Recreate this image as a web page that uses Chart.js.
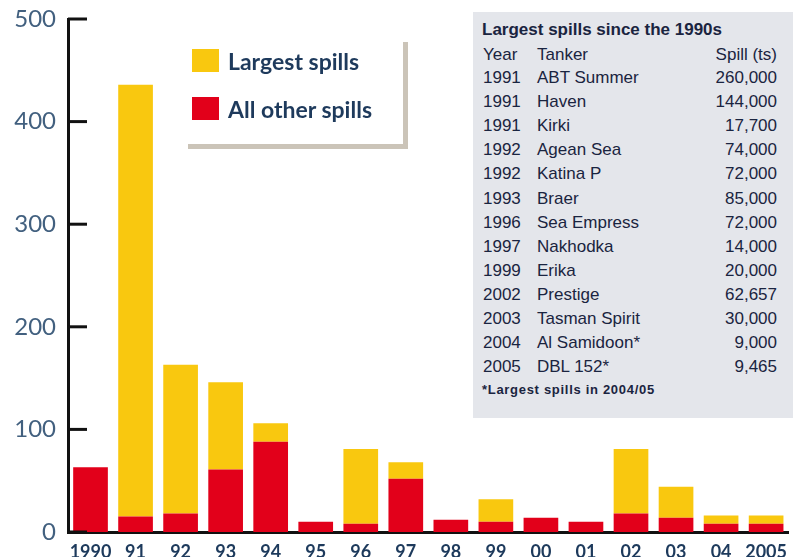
<!DOCTYPE html>
<html>
<head>
<meta charset="utf-8">
<script src="https://cdn.jsdelivr.net/npm/chart.js@4"></script>
<style>
  html, body { margin: 0; padding: 0; background: #fff; overflow: hidden; }
  #wrap { position: relative; width: 796px; height: 566px; }
  #legendBox {
    position: absolute; left: 188px; top: 42px; width: 215px; height: 102px;
    border-right: 5px solid #cbc4b8; border-bottom: 5px solid #cbc4b8;
    font-family: Lato, sans-serif; font-weight: bold; font-size: 23px; color: #1e3a5c;
  }
  .legItem { position: absolute; left: 4px; height: 24px; line-height: 24px; }
  .legItem span.sw { position: absolute; left: 0; top: 0; width: 27px; height: 23px; }
  .legItem span.tx { position: absolute; left: 36px; top: 0px; white-space: nowrap; }
  #tbl {
    position: absolute; left: 473px; top: 12px; width: 320px; height: 406px;
    background: #e4e6eb; font-family: "Liberation Sans", Arial, sans-serif; color: #1a2440;
  }
  .row { position: absolute; left: 0; width: 320px; height: 24px; line-height: 24px; font-size: 17px; }
  .row .yr { position: absolute; left: 10px; }
  .row .tk { position: absolute; left: 64px; }
  .row .sp { position: absolute; right: 16px; }
  .title { position: absolute; left: 9px; top: 6px; font-size: 17px; font-weight: bold; line-height: 24px; white-space: nowrap; }
  .note { position: absolute; left: 9px; top: 368px; font-size: 13px; font-weight: bold; letter-spacing: 0.7px; line-height: 20px; }
</style>
</head>
<body>
<div id="wrap">
  <canvas id="myChart" width="796" height="566"></canvas>
  <div id="legendBox"></div>
  <div id="tbl"></div>
</div>
<script>
const years = ['1990', '91', '92', '93', '94', '95', '96', '97', '98', '99', '00', '01', '02', '03', '04', '2005'];
const otherSpills = [63, 15, 18, 61, 88, 10, 8, 52, 12, 10, 14, 10, 18, 14, 8, 8];
const largestSpills = [0, 421, 145, 85, 18, 0, 73, 16, 0, 22, 0, 0, 63, 30, 8, 8];
const yTicks = [0, 100, 200, 300, 400, 500];

const tableYears = ['1991', '1991', '1991', '1992', '1992', '1993', '1996', '1997', '1999', '2002', '2003', '2004', '2005'];
const tableTankers = ['ABT Summer', 'Haven', 'Kirki', 'Agean Sea', 'Katina P', 'Braer', 'Sea Empress', 'Nakhodka', 'Erika', 'Prestige', 'Tasman Spirit', 'Al Samidoon*', 'DBL 152*'];
const tableSpills = ['260,000', '144,000', '17,700', '74,000', '72,000', '85,000', '72,000', '14,000', '20,000', '62,657', '30,000', '9,000', '9,465'];

const RED = '#e2001a';
const YELLOW = '#f9c80f';

// short tick marks pointing into the plot, like the original
const innerTicks = {
  id: 'innerTicks',
  afterDraw(chart) {
    const y = chart.scales.y;
    const c = chart.ctx;
    c.save();
    c.strokeStyle = '#111';
    c.lineWidth = 3;
    yTicks.forEach(v => {
      const py = y.getPixelForValue(v);
      c.beginPath();
      c.moveTo(y.right, py);
      c.lineTo(y.right + 19, py);
      c.stroke();
    });
    c.restore();
  }
};

const ctx = document.getElementById('myChart');

const chart = new Chart(ctx, {
  type: 'bar',
  data: {
    labels: years,
    datasets: [{
      label: 'All other spills',
      data: otherSpills,
      backgroundColor: RED,
      barPercentage: 0.77,
      categoryPercentage: 1
    }, {
      label: 'Largest spills',
      data: largestSpills,
      backgroundColor: YELLOW,
      barPercentage: 0.77,
      categoryPercentage: 1
    }]
  },
  options: {
    responsive: false,
    animation: false,
    layout: { padding: { top: 19, right: 0, left: 0, bottom: 0 } },
    plugins: {
      legend: { display: false },
      tooltip: { enabled: false }
    },
    scales: {
      x: {
        stacked: true,
        grid: { display: false, drawTicks: false },
        border: { color: '#111', width: 3 },
        ticks: {
          padding: 9,
          color: '#1d3a5c',
          font: { family: 'Lato', size: 18, weight: 'bold' },
          maxRotation: 0,
          autoSkip: false
        },
        afterFit(scale) { scale.height = 34; }
      },
      y: {
        stacked: true,
        min: 0,
        max: 500,
        grid: { display: false, drawTicks: false },
        border: { color: '#111', width: 3 },
        ticks: {
          stepSize: 100,
          padding: 12,
          color: '#42607f',
          font: { family: 'Lato', size: 24 }
        },
        afterFit(scale) {
          scale.width = 68;
          scale.paddingTop = 0;
          scale.paddingBottom = 0;
        }
      }
    }
  },
  plugins: [innerTicks]
});

// legend, largest spills listed first
const legendBox = document.getElementById('legendBox');
chart.data.datasets.slice().reverse().forEach((ds, i) => {
  const item = document.createElement('div');
  item.className = 'legItem';
  item.style.top = (7 + i * 48) + 'px';
  item.innerHTML = '<span class="sw" style="background:' + ds.backgroundColor + '"></span><span class="tx">' + ds.label + '</span>';
  legendBox.appendChild(item);
});

// table of the largest spills
const tbl = document.getElementById('tbl');
let html = '<div class="title">Largest spills since the 1990s</div>';
html += '<div class="row" style="top:31px"><span class="yr">Year</span><span class="tk">Tanker</span><span class="sp">Spill (ts)</span></div>';
tableYears.forEach((yr, i) => {
  const top = 54 + i * 24.1;
  html += '<div class="row" style="top:' + top + 'px"><span class="yr">' + yr + '</span><span class="tk">' + tableTankers[i] + '</span><span class="sp">' + tableSpills[i] + '</span></div>';
});
html += '<div class="note">*Largest spills in 2004/05</div>';
tbl.innerHTML = html;
</script>
</body>
</html>
